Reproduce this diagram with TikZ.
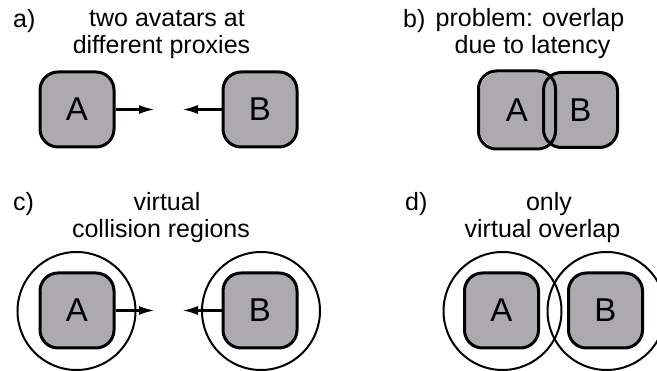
\documentclass[tikz,border=0pt]{standalone}
\usepackage{fontspec}
\setmainfont{Liberation Sans}
\usetikzlibrary{arrows.meta}
\definecolor{avgray}{RGB}{172,170,174}
\begin{document}
\begin{tikzpicture}[x=1pt,y=-1pt,
  avatar/.style={rounded corners=18pt, minimum width=74pt, minimum height=75pt,
    inner sep=0pt, fill=avgray, draw=black, line width=3pt,
    font=\fontsize{33}{33}\selectfont},
  avfill/.style={avatar, draw=none},
  outline/.style={draw=black, line width=3pt, rounded corners=18pt},
  region/.style={circle, draw=black, line width=2pt, minimum size=118pt, inner sep=0pt},
  mv/.style={line width=2.6pt, -{Latex[length=16pt,width=9pt]}},
  title/.style={font=\fontsize{25}{29}\selectfont, inner sep=0pt, anchor=base},
  lab/.style={font=\fontsize{25}{29}\selectfont, inner sep=0pt, anchor=base west}]
\useasboundingbox (0,0) rectangle (657,371);
% ---------- a)
\node[lab] (la) at (13,28) {a)};
\node[title] (ta1) at (167,27) {two avatars at};
\node[title] (ta2) at (161.5,54) {different proxies};
\node[avatar] (aA) at (77,109.5) {A};
\node[avatar] (aB) at (260,109.5) {B};
\coordinate (aAt) at (155,109.5);
\coordinate (aBt) at (182,109.5);
\draw[mv] (aA.east) -- (aAt);
\draw[mv] (aB.west) -- (aBt);
% ---------- b)
\node[lab] (lb) at (403,28) {b)};
\node[title] (tb1) at (530,27) {problem: overlap};
\node[title] (tb2) at (532.5,54) {due to latency};
\node[avfill] (bA) at (517,110) {A};
\node[avatar] (bB) at (580.5,110) {B};
\draw[outline] (bA.south west) rectangle (bA.north east);
% ---------- c)
\node[lab] (lc) at (13,211) {c)};
\node[title] (tc1) at (167,211) {virtual};
\node[title] (tc2) at (161,238) {collision regions};
\node[region] (cRA) at (76.5,311) {};
\node[region] (cRB) at (261,311) {};
\node[avatar] (cA) at (77,310.5) {A};
\node[avatar] (cB) at (260,310.5) {B};
\coordinate (cAt) at (155,310.5);
\coordinate (cBt) at (182,310.5);
\draw[mv] (cA.east) -- (cAt);
\draw[mv] (cB.west) -- (cBt);
% ---------- d)
\node[lab] (ld) at (405,211) {d)};
\node[title] (td1) at (549,211) {only};
\node[title] (td2) at (542.5,238) {virtual overlap};
\node[region] (dRA) at (502.5,311) {};
\node[region] (dRB) at (606.5,311) {};
\node[avatar] (dA) at (501.5,310.5) {A};
\node[avatar] (dB) at (605.5,310.5) {B};
\end{tikzpicture}
\end{document}
